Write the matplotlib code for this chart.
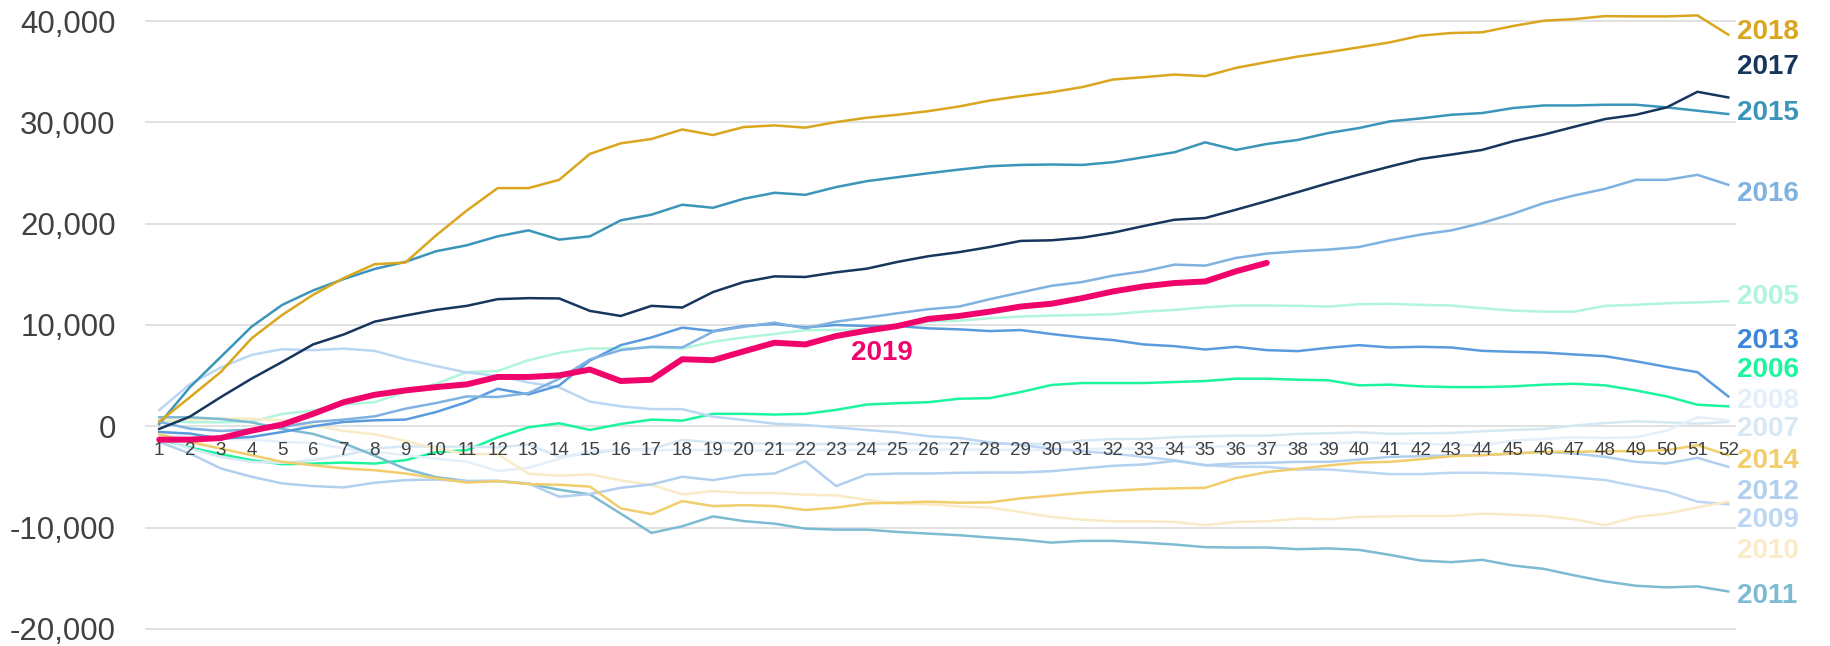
import matplotlib
matplotlib.use("Agg")
import matplotlib.pyplot as plt
from matplotlib.ticker import FuncFormatter

plt.rcParams['font.family'] = ['Liberation Sans', 'DejaVu Sans']

# semanas
weeks = list(range(1, 53))

y2005 = [560, 400, 400, 460, 1220, 1560, 2150, 2380, 3380, 4200,
         5360, 5460, 6520, 7250, 7680, 7680, 7780, 7680, 8340, 8770,
         9110, 9500, 9500, 9570, 9900, 10330, 10430, 10660, 10830, 10930,
         10990, 11060, 11320, 11490, 11750, 11920, 11920, 11890, 11820, 12050,
         12090, 11990, 11920, 11660, 11420, 11320, 11320, 11890, 11990, 12150,
         12230, 12350]
y2006 = [-1260, -2090, -2750, -3340, -3740, -3680, -3580, -3680, -3340, -2550,
         -2350, -1090, -100, 300, -360, 230, 660, 560, 1230, 1230,
         1160, 1230, 1620, 2150, 2280, 2380, 2720, 2780, 3380, 4080,
         4270, 4270, 4270, 4370, 4470, 4700, 4700, 4600, 4540, 4040,
         4110, 3940, 3870, 3870, 3940, 4110, 4200, 4040, 3540, 2950,
         2130, 1970]
y2007 = [-1050, -2200, -3020, -3510, -3610, -3340, -2850, -2200, -1970, -2030,
         -2000, -2070, -1800, -3000, -2700, -2300, -2250, -1340, -1600, -1700,
         -1700, -1750, -1750, -1750, -1700, -1700, -1700, -1720, -1740, -1740,
         -1410, -1250, -1250, -1080, -980, -920, -920, -750, -690, -590,
         -750, -690, -660, -490, -360, -260, 70, 330, 490, 390,
         260, 430]
y2008 = [-890, -1050, -1210, -1310, -1540, -1640, -2200, -2530, -2850, -3200,
         -3500, -4400, -4100, -3200, -2400, -2300, -2400, -2300, -2350, -2400,
         -2400, -2300, -2400, -2300, -2350, -2300, -2300, -2300, -2350, -2300,
         -2250, -2200, -2200, -2100, -2000, -1950, -1900, -1850, -1700, -1570,
         -1670, -1740, -1800, -1900, -1410, -1250, -1080, -1150, -1080, -430,
         900, 590]
y2009 = [1600, 4160, 5800, 7050, 7610, 7510, 7670, 7440, 6620, 5950,
         5310, 4980, 4330, 3840, 2430, 1970, 1700, 1690, 950, 620,
         250, 130, -110, -370, -600, -980, -1150, -1590, -1830, -2210,
         -2460, -2690, -3020, -3340, -3840, -4000, -4000, -4260, -4260, -4490,
         -4720, -4720, -4590, -4590, -4660, -4820, -5050, -5310, -5900, -6460,
         -7440, -7700]
y2010 = [590, 660, 750, 750, 590, 100, -460, -790, -1440, -2180,
         -2740, -2740, -4680, -4880, -4740, -5340, -5770, -6720, -6390, -6590,
         -6590, -6750, -6820, -7250, -7640, -7700, -7900, -8030, -8460, -8950,
         -9210, -9380, -9380, -9440, -9770, -9440, -9380, -9110, -9180, -8950,
         -8890, -8850, -8850, -8620, -8720, -8850, -9180, -9770, -8950, -8620,
         -8000, -7440]
y2011 = [890, 890, 720, 390, -260, -750, -1670, -2890, -4200, -5020,
         -5410, -5410, -5670, -6260, -6720, -8620, -10520, -9870, -8890, -9360,
         -9610, -10100, -10200, -10200, -10430, -10590, -10750, -10980, -11180, -11480,
         -11310, -11310, -11480, -11670, -11930, -11970, -11960, -12130, -12050, -12200,
         -12690, -13250, -13410, -13180, -13740, -14070, -14720, -15310, -15740, -15900,
         -15800, -16300]
y2012 = [-1540, -2690, -4160, -4980, -5640, -5900, -6030, -5570, -5310, -5250,
         -5410, -5380, -5640, -6950, -6690, -6070, -5740, -4980, -5310, -4820,
         -4660, -3440, -5900, -4750, -4660, -4660, -4590, -4560, -4560, -4430,
         -4160, -3900, -3770, -3410, -3840, -3670, -3610, -3510, -3510, -3280,
         -3020, -2950, -2850, -2850, -2690, -2520, -2690, -3020, -3510, -3670,
         -3110, -4000]
y2013 = [-560, -720, -1210, -1050, -560, 0, 430, 590, 660, 1410,
         2390, 3700, 3150, 4030, 6490, 8010, 8770, 9740, 9400, 9900,
         10100, 9770, 10000, 9900, 9900, 9670, 9570, 9400, 9500, 9110,
         8770, 8510, 8080, 7910, 7580, 7850, 7520, 7420, 7750, 8010,
         7780, 7850, 7780, 7450, 7350, 7280, 7090, 6920, 6420, 5860,
         5340, 2950]
y2014 = [-790, -1540, -2200, -2850, -3510, -3840, -4160, -4330, -4660, -5130,
         -5550, -5410, -5700, -5770, -5950, -8100, -8670, -7380, -7880, -7780,
         -7870, -8260, -8030, -7610, -7540, -7440, -7540, -7510, -7110, -6850,
         -6560, -6360, -6200, -6130, -6070, -5110, -4520, -4200, -3870, -3580,
         -3510, -3250, -2950, -2850, -2690, -2520, -2520, -2460, -2460, -2360,
         -1870, -2850]
y2015 = [230, 3870, 6850, 9830, 11990, 13410, 14540, 15530, 16230, 17280,
         17870, 18750, 19340, 18430, 18750, 20330, 20890, 21870, 21570, 22460,
         23050, 22850, 23610, 24200, 24590, 24980, 25340, 25670, 25800, 25840,
         25800, 26070, 26560, 27050, 28030, 27280, 27870, 28260, 28950, 29440,
         30100, 30390, 30750, 30920, 31410, 31670, 31670, 31740, 31740, 31480,
         31150, 30820]
y2016 = [430, -230, -460, -330, -70, 430, 660, 980, 1740, 2300,
         2950, 2890, 3280, 4690, 6600, 7520, 7850, 7780, 9340, 9830,
         10230, 9670, 10330, 10730, 11160, 11560, 11820, 12550, 13210, 13870,
         14240, 14870, 15300, 15960, 15860, 16620, 17050, 17280, 17440, 17700,
         18360, 18920, 19340, 20070, 20980, 22030, 22790, 23440, 24330, 24330,
         24820, 23840]
y2017 = [-260, 960, 2880, 4700, 6360, 8080, 9070, 10330, 10930, 11490,
         11890, 12550, 12650, 12620, 11390, 10890, 11890, 11720, 13250, 14240,
         14800, 14740, 15200, 15560, 16230, 16790, 17190, 17700, 18300, 18360,
         18620, 19110, 19770, 20390, 20560, 21380, 22230, 23110, 24000, 24850,
         25640, 26390, 26820, 27280, 28130, 28790, 29570, 30330, 30750, 31480,
         33020, 32460]
y2018 = [460, 2880, 5360, 8680, 11000, 12980, 14640, 16000, 16160, 18850,
         21310, 23510, 23510, 24330, 26890, 27930, 28360, 29300, 28750, 29540,
         29700, 29480, 30030, 30460, 30750, 31110, 31570, 32160, 32590, 32980,
         33480, 34230, 34460, 34720, 34560, 35380, 35950, 36490, 36930, 37410,
         37900, 38560, 38820, 38890, 39510, 40030, 40200, 40490, 40460, 40460,
         40560, 38660]
y2019 = [-1320, -1320, -1160, -430, 170, 1230, 2380, 3110, 3540, 3870,
         4140, 4870, 4870, 5030, 5600, 4470, 4600, 6620, 6520, 7400,
         8250, 8080, 8910, 9440, 9900, 10600, 10890, 11320, 11820, 12100,
         12650, 13310, 13810, 14140, 14300, 15300, 16130]

years = [2005, 2006, 2007, 2008, 2009, 2010, 2011, 2012,
         2013, 2014, 2015, 2016, 2017, 2018]
series = [y2005, y2006, y2007, y2008, y2009, y2010, y2011, y2012,
          y2013, y2014, y2015, y2016, y2017, y2018]
colors = ['#B0F5DC', '#1CF59E', '#D6E8F3', '#E4EFFA', '#BBD7F3', '#F9EBC6',
          '#7DBBD3', '#B1CFEE', '#5A9BDE', '#F1CD6C', '#3B95BA', '#7FB1E1',
          '#17365D', '#D9A61E']
label_colors = ['#B0F5DC', '#1CF59E', '#D6E8F3', '#E4EFFA', '#BBD7F3', '#F9EBC6',
                '#7DBBD3', '#B1CFEE', '#3A86D8', '#F1CD6C', '#3B95BA', '#7FB1E1',
                '#17365D', '#D9A61E']
# posicion vertical de las etiquetas a la derecha
label_y = [12790, 5530, -230, 2530, -9220, -12330, -16710, -6450,
           8410, -3460, 30880, 22930, 35480, 38940]
yticks = [-20000, -10000, 0, 10000, 20000, 30000, 40000]

fig = plt.figure(figsize=(18.3, 6.46), dpi=100)
ax = fig.add_axes([0.0792, 0.0186, 0.8694, 0.9535])

# lineas de cuadricula detras de todo
for t in yticks:
    ax.axhline(t, color='#DCDCDC', lw=1.2, zorder=0.5)

for yr, vals, c in zip(years, series, colors):
    ax.plot(weeks, vals, color=c, lw=1.8, solid_joinstyle='round',
            clip_on=False, zorder=1)

ax.plot(weeks[:len(y2019)], y2019, color='#F0046C', lw=4.3,
        solid_capstyle='round', solid_joinstyle='round', zorder=1.5)

for yr, ly, c in zip(years, label_y, label_colors):
    ax.text(52.3, ly, str(yr), color=c, fontsize=20, fontweight='bold',
            ha='left', va='center', clip_on=False)
ax.text(24.5, 7200, '2019', color='#F0046C', fontsize=20, fontweight='bold',
        ha='center', va='center')

ax.set_xlim(0.535, 52.25)
ax.set_ylim(-20500, 40300)
ax.set_yticks(yticks)
ax.yaxis.set_major_formatter(FuncFormatter(lambda v, p: f'{int(v):,}'))
ax.set_xticks(weeks)
ax.set_xticklabels([str(w) for w in weeks])

for s in ['top', 'right', 'left']:
    ax.spines[s].set_visible(False)
ax.spines['bottom'].set_position(('data', 0))
ax.spines['bottom'].set_visible(False)

ax.tick_params(axis='y', length=0, pad=21, labelsize=22.5, labelcolor='#404040')
ax.tick_params(axis='x', length=0, pad=11, labelsize=13.5, labelcolor='#404040')

fig.savefig('out.png', dpi=100)
